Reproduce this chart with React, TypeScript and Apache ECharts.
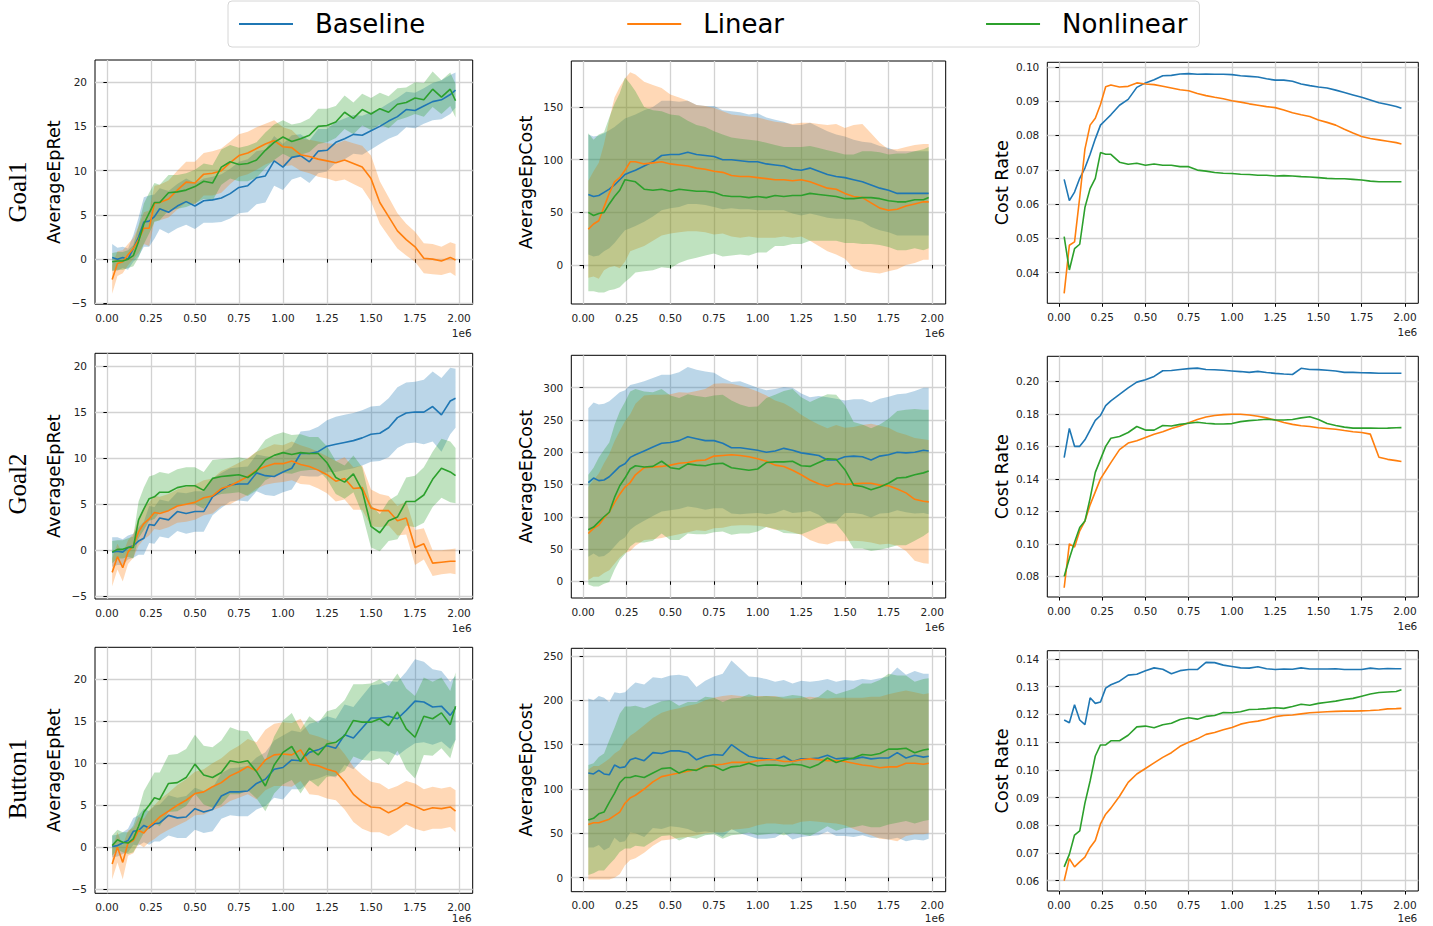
import React, { useEffect, useRef } from 'react';
import * as echarts from 'echarts';

// Environment steps
const X = [30000, 60000, 90000, 120000, 150000, 180000, 210000, 240000, 270000, 300000,
  350000, 400000, 450000, 500000, 550000, 600000, 650000, 700000, 750000, 800000,
  850000, 900000, 950000, 1000000, 1050000, 1100000, 1150000, 1200000, 1250000, 1300000,
  1350000, 1400000, 1450000, 1500000, 1550000, 1600000, 1650000, 1700000, 1750000, 1800000,
  1850000, 1900000, 1950000, 1980000];

const SERIES_NAMES = ['Baseline', 'Linear', 'Nonlinear'];
const ROW_LABELS = ['Goal1', 'Goal2', 'Button1'];
const METRICS = ['AverageEpRet', 'AverageEpCost', 'Cost Rate'];
const X_TICKS = [0, 250000, 500000, 750000, 1000000, 1250000, 1500000, 1750000, 2000000];

// ---------- Goal1 ----------
const goal1RetBaseline = [0.2, 0.0, 0.2, 0.0, 1.2, 2.5, 4.2, 4.3, 4.8, 5.7, 5.3, 6.0, 6.5, 6.0, 6.6, 6.7, 6.9, 7.4, 8.1, 8.3, 9.2, 9.4, 11.1, 10.4, 11.5, 11.7, 11.0, 12.2, 12.3, 13.2, 13.6, 14.1, 14.0, 14.5, 15.0, 15.6, 16.1, 16.9, 16.8, 17.3, 17.8, 18.0, 18.6, 19.1];
const goal1RetBaselineStd = [1.5, 1.3, 1.2, 1.2, 1.5, 2.2, 2.8, 2.9, 2.5, 2.3, 2.4, 2.5, 2.6, 2.6, 2.5, 2.6, 2.7, 2.8, 2.9, 3.0, 3.0, 3.0, 2.8, 2.6, 2.5, 2.4, 2.4, 2.5, 2.4, 2.3, 2.3, 2.2, 2.2, 2.1, 2.0, 2.0, 2.1, 2.0, 2.0, 2.0, 2.1, 2.2, 2.2, 2.0];
const goal1RetLinear = [-2.3, -0.5, -0.3, 0.5, 1.2, 2.2, 3.5, 3.5, 6.3, 6.4, 6.8, 7.8, 8.7, 8.6, 9.6, 9.7, 10.0, 10.9, 11.7, 12.0, 12.5, 13.0, 13.4, 12.7, 12.6, 11.8, 11.6, 11.3, 11.1, 10.9, 11.2, 10.8, 10.4, 9.1, 6.4, 4.8, 3.2, 2.2, 1.4, 0.1, 0.0, -0.2, 0.2, -0.1];
const goal1RetLinearStd = [1.6, 1.4, 1.3, 1.2, 1.2, 1.5, 1.8, 2.0, 2.0, 2.0, 2.1, 2.2, 2.3, 2.4, 2.4, 2.5, 2.5, 2.4, 2.4, 2.4, 2.4, 2.3, 2.3, 2.2, 2.0, 1.8, 1.9, 2.0, 2.0, 2.1, 2.2, 2.3, 2.4, 2.6, 2.4, 2.2, 2.0, 1.8, 1.7, 1.7, 1.7, 1.6, 1.7, 1.8];
const goal1RetNonlinear = [-0.3, -0.2, -0.2, 0.0, 0.4, 2.0, 4.0, 5.2, 6.4, 6.4, 7.5, 7.6, 7.8, 8.2, 8.8, 8.6, 10.4, 11.0, 10.7, 10.8, 11.2, 12.3, 13.2, 13.8, 13.3, 13.6, 14.0, 15.0, 15.1, 15.5, 16.6, 15.9, 16.9, 16.4, 17.0, 16.6, 17.5, 17.7, 18.2, 18.0, 19.2, 18.3, 19.2, 17.9];
const goal1RetNonlinearStd = [1.0, 1.0, 1.0, 1.0, 1.2, 1.8, 2.3, 2.3, 2.2, 2.0, 2.0, 1.9, 1.9, 1.9, 2.0, 2.0, 2.0, 1.9, 1.9, 2.0, 2.0, 2.0, 2.0, 1.9, 1.9, 1.8, 1.9, 2.0, 1.9, 1.8, 1.9, 1.8, 1.8, 1.8, 1.8, 1.8, 1.8, 1.7, 1.8, 1.9, 2.0, 1.9, 1.9, 1.9];

const goal1CostBaseline = [67, 65, 66, 69, 72, 76, 81, 86, 88, 90, 94, 98, 104, 105, 105, 107, 105, 104, 103, 100, 100, 99, 98, 98, 96, 95, 94, 91, 90, 92, 89, 86, 84, 83, 81, 79, 76, 73, 71, 68, 68, 68, 68, 68];
const goal1CostBaselineStd = [57, 57, 57, 56, 56, 55, 54, 53, 53, 53, 53, 52, 52, 51, 50, 49, 47, 47, 48, 47, 46, 46, 45, 46, 44, 43, 42, 42, 43, 43, 42, 41, 40, 39, 38, 38, 40, 40, 40, 40, 40, 40, 40, 40];
const goal1CostLinear = [34, 39, 42, 55, 68, 79, 83, 90, 98, 98, 96, 97, 98, 96, 95, 94, 92, 91, 89, 88, 85, 84, 84, 83, 82, 81, 81, 80, 81, 79, 76, 73, 72, 68, 65, 64, 59, 54, 52, 53, 56, 58, 60, 60];
const goal1CostLinearStd = [46, 50, 55, 60, 70, 80, 86, 87, 85, 83, 78, 74, 70, 66, 64, 62, 60, 60, 60, 58, 58, 58, 57, 57, 56, 55, 54, 54, 54, 56, 58, 60, 62, 62, 68, 70, 66, 62, 58, 57, 56, 56, 55, 55];
const goal1CostNonlinear = [50, 47, 49, 50, 58, 65, 71, 81, 80, 79, 72, 71, 72, 70, 72, 71, 70, 70, 69, 66, 65, 65, 64, 65, 64, 66, 65, 66, 66, 68, 67, 66, 65, 63, 63, 64, 64, 63, 61, 60, 60, 62, 62, 64];
const goal1CostNonlinearStd = [75, 72, 75, 76, 82, 88, 92, 97, 92, 86, 78, 76, 74, 73, 70, 66, 63, 61, 58, 58, 56, 55, 55, 53, 52, 48, 47, 46, 46, 45, 44, 43, 42, 42, 42, 44, 44, 44, 44, 46, 46, 46, 48, 48];

const goal1RateBaseline = [0.0672, 0.0610, 0.0635, 0.0675, 0.0705, 0.0745, 0.0790, 0.0830, 0.0845, 0.0860, 0.0888, 0.0905, 0.0940, 0.0953, 0.0962, 0.0974, 0.0975, 0.0979, 0.0980, 0.0978, 0.0979, 0.0978, 0.0978, 0.0977, 0.0974, 0.0972, 0.0970, 0.0965, 0.0961, 0.0961, 0.0958, 0.0950, 0.0945, 0.0941, 0.0938, 0.0932, 0.0925, 0.0918, 0.0911, 0.0903, 0.0895, 0.0890, 0.0884, 0.0879];
const goal1RateLinear = [0.0340, 0.0480, 0.0490, 0.0620, 0.0760, 0.0830, 0.0850, 0.0890, 0.0942, 0.0947, 0.0941, 0.0943, 0.0953, 0.0950, 0.0948, 0.0943, 0.0938, 0.0933, 0.0930, 0.0922, 0.0916, 0.0911, 0.0907, 0.0901, 0.0897, 0.0892, 0.0888, 0.0884, 0.0881, 0.0874, 0.0866, 0.0860, 0.0855, 0.0845, 0.0838, 0.0830, 0.0818, 0.0807, 0.0797, 0.0791, 0.0787, 0.0783, 0.0779, 0.0775];
const goal1RateNonlinear = [0.0505, 0.0408, 0.0470, 0.0483, 0.0590, 0.0645, 0.0675, 0.0750, 0.0745, 0.0745, 0.0722, 0.0716, 0.0719, 0.0713, 0.0717, 0.0713, 0.0713, 0.0709, 0.0709, 0.0699, 0.0696, 0.0692, 0.0690, 0.0689, 0.0687, 0.0686, 0.0684, 0.0684, 0.0682, 0.0683, 0.0682, 0.0680, 0.0679, 0.0677, 0.0675, 0.0674, 0.0674, 0.0672, 0.0670, 0.0667, 0.0665, 0.0665, 0.0665, 0.0665];

// ---------- Goal2 ----------
const goal2RetBaseline = [-0.2, -0.1, -0.2, 0.3, 0.5, 1.0, 1.3, 2.8, 2.7, 3.5, 3.3, 4.2, 4.0, 4.2, 4.2, 5.8, 6.5, 7.1, 7.2, 7.2, 8.4, 8.1, 8.0, 8.5, 8.9, 10.5, 10.5, 10.7, 11.3, 11.5, 11.7, 11.9, 12.2, 12.6, 12.7, 13.3, 14.4, 14.9, 15.0, 15.0, 15.6, 14.7, 16.2, 16.5];
const goal2RetBaselineStd = [1.6, 1.5, 1.4, 1.3, 1.3, 1.5, 1.8, 2.0, 2.0, 2.0, 2.0, 2.1, 2.2, 2.2, 2.2, 2.0, 1.9, 1.8, 1.8, 1.9, 2.0, 2.1, 2.1, 2.2, 2.3, 2.4, 2.5, 2.7, 2.8, 3.0, 3.0, 3.0, 3.0, 3.0, 3.0, 3.2, 3.3, 3.3, 3.3, 3.5, 3.8, 4.0, 3.6, 3.2];
const goal2RetLinear = [-2.4, -0.7, -1.9, -0.2, 0.5, 2.0, 2.9, 3.4, 4.1, 4.0, 4.3, 4.8, 5.0, 5.2, 5.7, 5.9, 6.7, 7.0, 7.5, 8.0, 8.7, 9.1, 9.4, 9.4, 9.7, 9.3, 9.1, 8.7, 8.2, 7.5, 7.8, 6.7, 6.8, 4.6, 4.3, 4.3, 3.2, 3.5, 0.3, 0.7, -1.4, -1.3, -1.2, -1.2];
const goal2RetLinearStd = [1.5, 1.4, 1.5, 1.3, 1.3, 1.5, 1.7, 1.8, 1.8, 1.8, 1.8, 1.8, 1.9, 1.9, 1.9, 1.9, 1.9, 2.0, 2.0, 2.0, 2.0, 2.0, 2.1, 2.0, 2.1, 2.1, 2.0, 2.0, 2.0, 2.2, 2.3, 2.3, 2.4, 2.0, 1.8, 1.6, 1.6, 1.8, 1.9, 1.7, 1.4, 1.3, 1.3, 1.4];
const goal2RetNonlinear = [-0.2, 0.1, 0.1, 0.3, 0.3, 3.3, 4.5, 5.6, 5.8, 6.3, 6.3, 6.8, 7.0, 7.0, 6.5, 7.8, 8.0, 8.1, 8.2, 7.9, 8.6, 9.8, 10.3, 10.6, 10.4, 10.6, 10.5, 10.5, 9.5, 7.9, 7.4, 8.3, 6.5, 2.6, 1.9, 3.2, 3.6, 5.3, 5.3, 6.0, 7.7, 8.9, 8.5, 8.1];
const goal2RetNonlinearStd = [1.2, 1.0, 1.0, 1.0, 1.2, 2.0, 2.3, 2.4, 2.4, 2.2, 2.0, 2.0, 2.0, 2.0, 2.0, 2.0, 1.9, 1.9, 1.9, 2.0, 2.1, 2.2, 2.2, 2.2, 2.1, 2.0, 1.8, 1.8, 1.8, 1.8, 1.8, 2.0, 2.5, 2.3, 2.0, 2.2, 2.4, 2.6, 2.8, 3.0, 3.0, 3.2, 3.3, 3.0];

const goal2CostBaseline = [153, 160, 156, 157, 162, 170, 178, 182, 192, 196, 202, 208, 214, 215, 218, 224, 221, 218, 218, 214, 207, 207, 205, 203, 200, 202, 206, 203, 199, 197, 195, 188, 188, 193, 194, 193, 188, 194, 196, 200, 199, 200, 203, 202];
const goal2CostBaselineStd = [115, 117, 118, 118, 117, 116, 115, 114, 112, 110, 108, 107, 106, 105, 106, 108, 107, 107, 105, 101, 102, 103, 100, 97, 96, 96, 95, 97, 92, 88, 92, 97, 95, 87, 88, 89, 89, 89, 90, 90, 92, 95, 97, 98];
const goal2CostLinear = [74, 82, 87, 98, 107, 122, 135, 146, 153, 165, 176, 177, 178, 180, 183, 184, 187, 188, 194, 195, 196, 195, 193, 190, 186, 180, 178, 172, 165, 157, 151, 147, 152, 150, 151, 152, 152, 149, 148, 143, 137, 127, 124, 123];
const goal2CostLinearStd = [72, 75, 80, 85, 90, 95, 98, 102, 106, 110, 112, 112, 111, 110, 110, 108, 108, 110, 112, 112, 110, 108, 106, 104, 102, 100, 98, 96, 93, 93, 92, 90, 90, 88, 88, 90, 92, 92, 90, 88, 90, 95, 96, 96];
const goal2CostNonlinear = [80, 84, 92, 100, 107, 130, 148, 160, 174, 179, 177, 178, 186, 176, 174, 182, 180, 179, 182, 183, 176, 174, 172, 174, 184, 185, 185, 186, 179, 178, 184, 190, 189, 173, 149, 147, 142, 146, 152, 160, 161, 165, 168, 171];
const goal2CostNonlinearStd = [85, 92, 100, 104, 108, 112, 115, 118, 120, 119, 117, 115, 112, 112, 110, 108, 107, 106, 106, 106, 104, 100, 98, 97, 100, 104, 110, 112, 106, 100, 100, 100, 100, 100, 98, 96, 95, 97, 100, 104, 105, 102, 98, 95];

const goal2RateBaseline = [0.153, 0.171, 0.160, 0.160, 0.164, 0.170, 0.176, 0.179, 0.185, 0.188, 0.192, 0.196, 0.1995, 0.201, 0.203, 0.2065, 0.2067, 0.2073, 0.2078, 0.2081, 0.2073, 0.2071, 0.2068, 0.2064, 0.2060, 0.2055, 0.2061, 0.2054, 0.2049, 0.2045, 0.2042, 0.2080, 0.2073, 0.2072, 0.2068, 0.2064, 0.2055, 0.2055, 0.2053, 0.2052, 0.2050, 0.2050, 0.2050, 0.2050];
const goal2RateLinear = [0.073, 0.100, 0.098, 0.108, 0.114, 0.124, 0.132, 0.140, 0.145, 0.150, 0.158, 0.162, 0.1635, 0.1655, 0.1675, 0.169, 0.171, 0.1725, 0.1745, 0.1765, 0.178, 0.179, 0.1795, 0.1797, 0.1797, 0.1793, 0.1785, 0.1775, 0.1762, 0.1747, 0.1735, 0.1727, 0.1722, 0.1714, 0.171, 0.1705, 0.1697, 0.169, 0.1685, 0.1675, 0.1533, 0.152, 0.1512, 0.1507];
const goal2RateNonlinear = [0.080, 0.091, 0.101, 0.110, 0.114, 0.128, 0.144, 0.152, 0.160, 0.165, 0.166, 0.1685, 0.1722, 0.1700, 0.1700, 0.1728, 0.1725, 0.1735, 0.1742, 0.1748, 0.1742, 0.1738, 0.1737, 0.1740, 0.1752, 0.1758, 0.1762, 0.1767, 0.1763, 0.1762, 0.1765, 0.1775, 0.1782, 0.1765, 0.1740, 0.1728, 0.1718, 0.1712, 0.1712, 0.1713, 0.1711, 0.1712, 0.1714, 0.1715];

// ---------- Button1 ----------
const button1RetBaseline = [0.1, 0.2, 0.5, 0.8, 1.9, 2.0, 2.6, 2.3, 2.8, 2.9, 3.8, 3.5, 3.6, 4.6, 4.2, 4.5, 6.1, 6.6, 6.6, 6.7, 7.6, 8.1, 9.3, 9.5, 10.4, 10.3, 11.3, 11.6, 12.1, 11.8, 13.4, 13.0, 14.2, 15.4, 15.4, 15.6, 15.3, 16.3, 17.4, 17.3, 16.7, 16.8, 15.7, 16.6];
const button1RetBaselineStd = [1.3, 1.3, 1.3, 1.4, 1.6, 1.8, 2.0, 2.0, 2.1, 2.2, 2.4, 2.4, 2.5, 2.5, 2.5, 2.6, 2.7, 2.8, 2.9, 3.0, 3.1, 3.2, 3.4, 3.8, 3.5, 3.4, 3.4, 3.4, 3.5, 3.5, 3.6, 3.7, 3.8, 3.9, 4.0, 4.2, 4.4, 4.6, 5.0, 4.8, 4.5, 4.2, 4.0, 3.8];
const button1RetLinear = [-2.0, 0.0, -1.8, 0.5, 0.8, 2.0, 1.7, 2.5, 3.0, 3.6, 4.3, 5.0, 5.6, 6.4, 6.6, 7.2, 7.7, 8.5, 9.0, 9.6, 9.1, 10.4, 11.0, 11.1, 11.0, 11.6, 9.9, 9.7, 9.3, 9.0, 7.8, 6.3, 5.4, 4.8, 4.7, 4.1, 4.6, 5.3, 4.9, 4.4, 4.7, 4.6, 4.8, 4.3];
const button1RetLinearStd = [1.8, 1.8, 2.0, 1.5, 1.5, 1.6, 1.7, 1.9, 2.0, 2.1, 2.2, 2.4, 2.5, 2.6, 2.7, 2.8, 2.9, 3.0, 3.1, 3.3, 3.4, 3.6, 3.7, 3.8, 3.8, 3.7, 3.6, 3.5, 3.5, 3.4, 3.3, 3.3, 3.2, 3.0, 2.9, 2.8, 2.7, 2.6, 2.7, 2.5, 2.5, 2.4, 2.4, 2.5];
const button1RetNonlinear = [0.2, 0.9, 0.6, 0.5, 1.0, 2.5, 4.2, 5.0, 5.9, 5.7, 7.6, 7.7, 8.3, 9.9, 8.6, 8.3, 8.9, 10.3, 10.1, 10.3, 9.0, 7.3, 9.8, 11.3, 12.0, 10.2, 11.8, 11.0, 12.3, 12.5, 13.3, 15.1, 14.9, 14.9, 15.3, 14.5, 16.1, 14.1, 13.1, 15.6, 15.3, 16.0, 14.6, 16.8];
const button1RetNonlinearStd = [1.2, 1.2, 1.2, 1.3, 1.6, 2.0, 2.5, 2.8, 3.0, 3.2, 3.4, 3.4, 3.4, 3.5, 3.5, 3.6, 3.8, 4.0, 3.8, 3.5, 3.2, 3.0, 3.4, 3.8, 4.0, 3.8, 3.8, 3.8, 3.9, 4.0, 4.2, 4.3, 4.5, 4.6, 4.7, 4.7, 4.6, 4.8, 4.9, 4.6, 4.4, 4.2, 4.0, 4.0];

const button1CostBaseline = [118, 117, 121, 117, 116, 127, 124, 125, 133, 135, 132, 141, 140, 143, 143, 141, 133, 137, 139, 138, 150, 143, 137, 135, 134, 133, 137, 131, 134, 134, 135, 138, 134, 135, 134, 136, 134, 135, 135, 141, 135, 138, 136, 137];
const button1CostBaselineStd = [84, 83, 84, 86, 82, 82, 84, 84, 82, 85, 86, 85, 85, 85, 86, 86, 82, 85, 88, 92, 95, 93, 90, 91, 90, 88, 86, 88, 88, 87, 87, 86, 87, 88, 88, 88, 89, 90, 92, 96, 94, 95, 94, 93];
const button1CostLinear = [60, 62, 62, 64, 66, 70, 74, 84, 90, 93, 100, 108, 114, 116, 118, 120, 122, 125, 127, 128, 130, 130, 130, 132, 133, 133, 131, 131, 133, 134, 133, 132, 132, 131, 129, 127, 126, 124, 125, 125, 129, 129, 128, 129];
const button1CostLinearStd = [62, 64, 64, 66, 68, 70, 70, 70, 70, 71, 72, 72, 72, 73, 73, 74, 74, 75, 76, 77, 76, 75, 74, 73, 72, 72, 71, 71, 70, 70, 70, 70, 71, 72, 74, 76, 78, 80, 82, 84, 82, 80, 79, 79];
const button1CostNonlinear = [65, 67, 72, 74, 85, 95, 107, 113, 113, 115, 113, 118, 123, 124, 118, 122, 121, 126, 126, 121, 125, 126, 129, 126, 127, 127, 126, 128, 127, 124, 128, 135, 130, 133, 135, 139, 138, 140, 145, 145, 146, 141, 144, 145];
const button1CostNonlinearStd = [62, 62, 64, 66, 70, 74, 78, 80, 80, 79, 78, 77, 76, 76, 76, 76, 77, 78, 77, 77, 77, 77, 78, 78, 78, 77, 78, 78, 78, 77, 76, 77, 77, 77, 78, 80, 81, 83, 85, 83, 82, 80, 80, 80];

const button1RateBaseline = [0.118, 0.117, 0.1235, 0.118, 0.1163, 0.126, 0.124, 0.1245, 0.1295, 0.1307, 0.132, 0.1342, 0.1345, 0.1358, 0.1368, 0.1363, 0.1347, 0.1358, 0.1362, 0.1362, 0.1388, 0.1387, 0.1378, 0.1373, 0.1368, 0.1367, 0.1372, 0.1365, 0.1362, 0.1364, 0.1363, 0.1368, 0.1364, 0.1364, 0.1364, 0.1365, 0.1362, 0.1362, 0.1362, 0.1367, 0.1364, 0.1366, 0.1365, 0.1365];
const button1RateLinear = [0.060, 0.068, 0.065, 0.0668, 0.0685, 0.072, 0.0745, 0.0805, 0.084, 0.0862, 0.0905, 0.0955, 0.0985, 0.1005, 0.1025, 0.1045, 0.1062, 0.1085, 0.1100, 0.1112, 0.1128, 0.1135, 0.1145, 0.1153, 0.1165, 0.1172, 0.1176, 0.1183, 0.1192, 0.1196, 0.1198, 0.1202, 0.1206, 0.1208, 0.1210, 0.1211, 0.1212, 0.1212, 0.1213, 0.1214, 0.1216, 0.1220, 0.1221, 0.1222];
const button1RateNonlinear = [0.065, 0.0695, 0.0765, 0.078, 0.088, 0.096, 0.105, 0.109, 0.109, 0.1105, 0.1105, 0.1125, 0.1155, 0.1158, 0.1152, 0.1163, 0.1168, 0.1182, 0.1188, 0.1183, 0.1193, 0.1196, 0.1207, 0.1206, 0.1210, 0.1218, 0.1219, 0.1221, 0.1224, 0.1222, 0.1229, 0.1237, 0.1233, 0.1240, 0.1244, 0.1248, 0.1254, 0.1258, 0.1266, 0.1274, 0.1279, 0.1281, 0.1283, 0.1289];

// Y-axis tick values per panel
const RET_TICKS = [-5, 0, 5, 10, 15, 20];
const goal1CostTicks = [0, 50, 100, 150];
const goal2CostTicks = [0, 50, 100, 150, 200, 250, 300];
const button1CostTicks = [0, 50, 100, 150, 200, 250];
const goal1RateTicks = [0.04, 0.05, 0.06, 0.07, 0.08, 0.09, 0.10];
const goal2RateTicks = [0.08, 0.10, 0.12, 0.14, 0.16, 0.18, 0.20];
const button1RateTicks = [0.06, 0.07, 0.08, 0.09, 0.10, 0.11, 0.12, 0.13, 0.14];

// ---------- styling / layout ----------
const COLORS = ['#1f77b4', '#ff7f0e', '#2ca02c'];
const BAND_COLORS = ['rgba(31,119,180,0.3)', 'rgba(255,127,14,0.3)', 'rgba(44,160,44,0.3)'];
const FONT = 'DejaVu Sans';
const X_MIN = -67500;
const X_MAX = 2077500;

type Box = { l: number; t: number; r: number; b: number };
const BOXES: Box[][] = [
  [{ l: 95, t: 60, r: 472.7, b: 304.3 }, { l: 571.3, t: 61, r: 945.7, b: 304 }, { l: 1047.3, t: 62.3, r: 1418.3, b: 303.3 }],
  [{ l: 95, t: 353.3, r: 472.7, b: 599 }, { l: 571.3, t: 355.3, r: 945.7, b: 598 }, { l: 1047.3, t: 356.3, r: 1418.3, b: 597 }],
  [{ l: 95, t: 647.3, r: 472.7, b: 893.3 }, { l: 571.3, t: 648.3, r: 945.7, b: 891.7 }, { l: 1047.3, t: 650.7, r: 1418.3, b: 891 }],
];
const NAME_GAP = [32, 36, 36];
const ROW_LABEL_Y = [192, 484, 779];

type Panel = {
  row: number; col: number;
  means: number[][]; stds?: number[][];
  yMin: number; yMax: number; yTicks: number[]; digits: number;
};

const PANELS: Panel[] = [
  { row: 0, col: 0, means: [goal1RetBaseline, goal1RetLinear, goal1RetNonlinear], stds: [goal1RetBaselineStd, goal1RetLinearStd, goal1RetNonlinearStd], yMin: -5.1, yMax: 22.5, yTicks: RET_TICKS, digits: 0 },
  { row: 0, col: 1, means: [goal1CostBaseline, goal1CostLinear, goal1CostNonlinear], stds: [goal1CostBaselineStd, goal1CostLinearStd, goal1CostNonlinearStd], yMin: -37, yMax: 193.7, yTicks: goal1CostTicks, digits: 0 },
  { row: 0, col: 2, means: [goal1RateBaseline, goal1RateLinear, goal1RateNonlinear], yMin: 0.0311, yMax: 0.1013, yTicks: goal1RateTicks, digits: 2 },
  { row: 1, col: 0, means: [goal2RetBaseline, goal2RetLinear, goal2RetNonlinear], stds: [goal2RetBaselineStd, goal2RetLinearStd, goal2RetNonlinearStd], yMin: -5.29, yMax: 21.38, yTicks: RET_TICKS, digits: 0 },
  { row: 1, col: 1, means: [goal2CostBaseline, goal2CostLinear, goal2CostNonlinear], stds: [goal2CostBaselineStd, goal2CostLinearStd, goal2CostNonlinearStd], yMin: -25.9, yMax: 350.2, yTicks: goal2CostTicks, digits: 0 },
  { row: 1, col: 2, means: [goal2RateBaseline, goal2RateLinear, goal2RateNonlinear], yMin: 0.0673, yMax: 0.2154, yTicks: goal2RateTicks, digits: 2 },
  { row: 2, col: 0, means: [button1RetBaseline, button1RetLinear, button1RetNonlinear], stds: [button1RetBaselineStd, button1RetLinearStd, button1RetNonlinearStd], yMin: -5.48, yMax: 23.81, yTicks: RET_TICKS, digits: 0 },
  { row: 2, col: 1, means: [button1CostBaseline, button1CostLinear, button1CostNonlinear], stds: [button1CostBaselineStd, button1CostLinearStd, button1CostNonlinearStd], yMin: -15.8, yMax: 258.7, yTicks: button1CostTicks, digits: 0 },
  { row: 2, col: 2, means: [button1RateBaseline, button1RateLinear, button1RateNonlinear], yMin: 0.0563, yMax: 0.143, yTicks: button1RateTicks, digits: 2 },
];

function fmtNum(v: number, digits: number): string {
  const s = Math.abs(v).toFixed(digits);
  return v < -1e-12 ? '\u2212' + s : s;
}

function buildOption() {
  const grids: any[] = [];
  const xAxes: any[] = [];
  const yAxes: any[] = [];
  const series: any[] = [];
  const graphics: any[] = [];

  PANELS.forEach((p, i) => {
    const b = BOXES[p.row][p.col];
    grids.push({
      left: b.l, top: b.t, width: b.r - b.l, height: b.b - b.t,
      show: true, borderColor: '#000', borderWidth: 1, backgroundColor: 'transparent',
    });
    xAxes.push({
      gridIndex: i, type: 'value', min: X_MIN, max: X_MAX,
      axisLine: { show: false },
      axisTick: { show: true, length: 3.5, customValues: X_TICKS, lineStyle: { color: '#000', width: 1 } },
      axisLabel: {
        customValues: X_TICKS, margin: 8, fontFamily: FONT, fontSize: 10.5, color: '#222',
        formatter: (v: number) => (v / 1e6).toFixed(2),
      },
      splitLine: { show: true, lineStyle: { color: '#d2d2d2', width: 1.3 } },
    });
    yAxes.push({
      gridIndex: i, type: 'value', min: p.yMin, max: p.yMax,
      name: METRICS[p.col], nameLocation: 'middle', nameRotate: 90, nameGap: NAME_GAP[p.col],
      nameTextStyle: { fontFamily: FONT, fontSize: 17.6, color: '#000' },
      axisLine: { show: false },
      axisTick: { show: true, length: 3.5, customValues: p.yTicks, lineStyle: { color: '#000', width: 1 } },
      axisLabel: {
        customValues: p.yTicks, margin: 8, fontFamily: FONT, fontSize: 10.5, color: '#222',
        formatter: (v: number) => fmtNum(v, p.digits),
      },
      splitLine: { show: true, lineStyle: { color: '#d2d2d2', width: 1.3 } },
    });

    if (p.stds) {
      p.means.forEach((mean, k) => {
        const std = p.stds![k];
        series.push({
          type: 'custom', name: SERIES_NAMES[k] + ' band', xAxisIndex: i, yAxisIndex: i,
          silent: true, clip: true, z: 1,
          data: X.map((x, j) => [x, mean[j] - std[j], mean[j] + std[j]]),
          encode: { x: 0, y: [1, 2] },
          renderItem: (params: any, api: any) => {
            if (params.dataIndex !== 0) return null;
            const pts: number[][] = [];
            for (let j = 0; j < X.length; j++) pts.push(api.coord([X[j], mean[j] + std[j]]));
            for (let j = X.length - 1; j >= 0; j--) pts.push(api.coord([X[j], mean[j] - std[j]]));
            return { type: 'polygon', shape: { points: pts }, style: { fill: BAND_COLORS[k], stroke: 'none' } };
          },
        });
      });
    }
    p.means.forEach((mean, k) => {
      series.push({
        type: 'line', name: SERIES_NAMES[k], xAxisIndex: i, yAxisIndex: i,
        data: X.map((x, j) => [x, mean[j]]),
        showSymbol: false, symbol: 'none', silent: true, z: 3,
        lineStyle: { color: COLORS[k], width: 1.6 },
        itemStyle: { color: COLORS[k] },
        emphasis: { disabled: true },
      });
    });

    graphics.push({
      type: 'text', x: b.r - 1, y: Math.min(b.b + 29, 918),
      style: { text: '1e6', fontFamily: FONT, fontSize: 10.5, fill: '#222', align: 'right', verticalAlign: 'middle' },
    });
  });

  ROW_LABELS.forEach((lab, r) => {
    graphics.push({
      type: 'text', x: 17, y: ROW_LABEL_Y[r], rotation: Math.PI / 2,
      style: { text: lab, fontFamily: 'Liberation Serif', fontSize: 25, fill: '#000', align: 'center', verticalAlign: 'middle' },
    });
  });

  return {
    animation: false,
    backgroundColor: '#fff',
    legend: {
      data: SERIES_NAMES, left: 228, top: 1, orient: 'horizontal',
      icon: 'rect', itemGap: 202, itemWidth: 54, itemHeight: 2,
      padding: [8, 12, 8, 11],
      backgroundColor: '#fff', borderColor: '#d6d6d6', borderWidth: 1, borderRadius: 4,
      selectedMode: false,
      textStyle: { fontFamily: FONT, fontSize: 26, color: '#000', padding: [0, 0, 0, 17], lineHeight: 30 },
    },
    grid: grids,
    xAxis: xAxes,
    yAxis: yAxes,
    series,
    graphic: graphics,
  };
}

export default function App() {
  const ref = useRef<HTMLDivElement>(null);
  useEffect(() => {
    if (!ref.current) return;
    const chart = echarts.init(ref.current, null, { renderer: 'svg' });
    chart.setOption(buildOption() as any);
    return () => chart.dispose();
  }, []);
  return <div ref={ref} style={{ position: 'absolute', left: 0, top: 0, width: 1433, height: 926 }} />;
}
